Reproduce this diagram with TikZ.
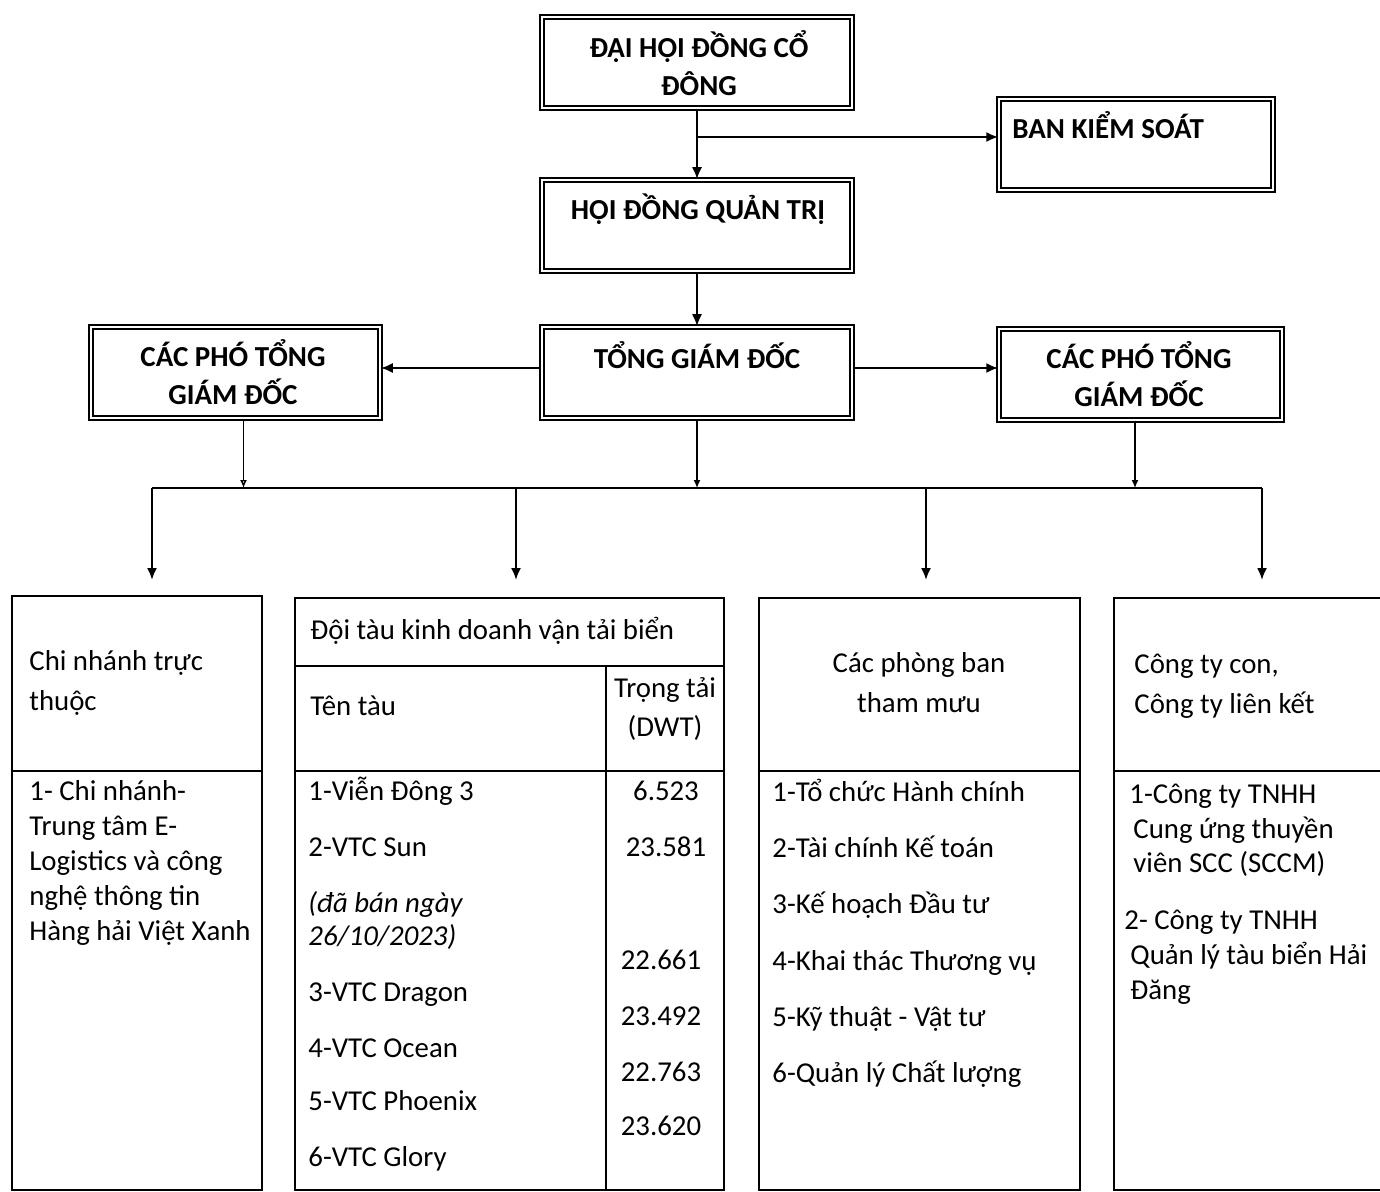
\documentclass[tikz,border=0pt]{standalone}
\usepackage{fontspec}
\setmainfont{Carlito}
\usetikzlibrary{arrows.meta}
\begin{document}
\begin{tikzpicture}[x=0.5pt,y=-0.5pt,
  ubox/.style={draw, double, line width=0.75pt, double distance=1.4pt, inner sep=0},
  lbox/.style={draw, line width=1.3pt, inner sep=0},
  dv/.style={line width=1.2pt},
  ln/.style={line width=1pt},
  arr/.style={line width=1pt, -{Latex[length=6pt,width=5pt]}},
  arrs/.style={line width=0.7pt, -{Latex[length=4pt,width=3.5pt]}},
  arro/.style={line width=0.7pt, -{Latex[open,length=4pt,width=3.5pt]}},
  bt/.style={inner sep=0, anchor=base, font=\fontsize{14.5}{17}\selectfont\bfseries},
  btw/.style={inner sep=0, anchor=base west, font=\fontsize{14.5}{17}\selectfont\bfseries},
  tw/.style={inner sep=0, anchor=base west, font=\fontsize{14.4}{17}\selectfont},
  tc/.style={inner sep=0, anchor=base, font=\fontsize{14.4}{17}\selectfont},
  ti/.style={inner sep=0, anchor=base west, font=\fontsize{14.4}{17}\selectfont\itshape}
]
\useasboundingbox (0,0) rectangle (1380,1192);
\fill[white] (0,0) rectangle (1380,1192);

% upper boxes
\node[ubox, minimum width=155pt, minimum height=45.5pt] (dh) at (697,62.5) {};
\node[ubox, minimum width=137pt, minimum height=45.5pt] (bks) at (1136,144.5) {};
\node[ubox, minimum width=155pt, minimum height=45.5pt] (hd) at (697,225.5) {};
\node[ubox, minimum width=155pt, minimum height=45.5pt] (tg) at (697,372.5) {};
\node[ubox, minimum width=144.5pt, minimum height=45.5pt] (lp) at (235.5,372.5) {};
\node[ubox, minimum width=141.5pt, minimum height=45.5pt] (rp) at (1140.5,374.5) {};

\node[bt] (dh1) at (699,58) {ĐẠI HỘI ĐỒNG CỔ};
\node[bt] (dh2) at (699,96) {ĐÔNG};
\node[btw] (bk1) at (1012,139) {BAN KIỂM SOÁT};
\node[bt] (hd1) at (698,220) {HỘI ĐỒNG QUẢN TRỊ};
\node[bt] (tg1) at (697,369) {TỔNG GIÁM ĐỐC};
\node[bt] (lp1) at (233,366) {CÁC PHÓ TỔNG};
\node[bt] (lp2) at (233,404) {GIÁM ĐỐC};
\node[bt] (rp1) at (1139,369) {CÁC PHÓ TỔNG};
\node[bt] (rp2) at (1139,407) {GIÁM ĐỐC};

% connectors
\coordinate (br) at (697,137);
\draw[ln] (dh.south) -- (br);
\draw[arr] (br) -- (hd.north);
\draw[arr] (br) -- (bks.west |- br);
\draw[arr] (hd.south) -- (tg.north);
\coordinate (hy) at (0,368);
\draw[arr] (tg.west |- hy) -- (lp.east |- hy);
\draw[arr] (tg.east |- hy) -- (rp.west |- hy);
\coordinate (busL) at (152,488);
\coordinate (busR) at (1262,488);
\draw[ln] (busL) -- (busR);
\draw[arrs] (tg.south) -- (tg.south |- busL);
\draw[arro] ([xshift=4pt]lp.south) -- ([xshift=4pt]lp.south |- busL);
\draw[arrs] ([xshift=-2.75pt]rp.south) -- ([xshift=-2.75pt]rp.south |- busL);
\coordinate (d1) at (152,580);
\coordinate (d2) at (516,580);
\coordinate (d3) at (926,580);
\coordinate (d4) at (1262,580);
\draw[arr] (busL) -- (d1);
\draw[arr] (d2 |- busL) -- (d2);
\draw[arr] (d3 |- busL) -- (d3);
\draw[arr] (busR) -- (d4);

% lower boxes
\node[lbox, minimum width=125pt, minimum height=297pt] (b1) at (137,893) {};
\node[lbox, minimum width=214.5pt, minimum height=296pt] (b2) at (509.5,894) {};
\node[lbox, minimum width=160.5pt, minimum height=296pt] (b3) at (919.5,894) {};
\node[lbox, minimum width=140.5pt, minimum height=296pt] (b4) at (1254.5,894) {};

\coordinate (h1) at (0,771);
\coordinate (h0) at (0,666);
\coordinate (cx) at (606,0);
\draw[dv] (b1.west |- h1) -- (b1.east |- h1);
\draw[dv] (b2.west |- h0) -- (b2.east |- h0);
\draw[dv] (b2.west |- h1) -- (b2.east |- h1);
\draw[dv] (cx |- h0) -- (cx |- b2.south);
\draw[dv] (b3.west |- h1) -- (b3.east |- h1);
\draw[dv] (b4.west |- h1) -- (b4.east |- h1);

% box 1 text
\node[tw] (a1) at (29,670) {Chi nhánh trực};
\node[tw] (a2) at (29,710) {thuộc};
\node[tw] (a3) at (29,800) {1- Chi nhánh-};
\node[tw] (a4) at (29,835) {Trung tâm E-};
\node[tw] (a5) at (29,870) {Logistics và công};
\node[tw] (a6) at (29,905) {nghệ thông tin};
\node[tw] (a7) at (29,940) {Hàng hải Việt Xanh};

% box 2 text
\node[tw] (s0) at (310,639) {Đội tàu kinh doanh vận tải biển};
\node[tw] (s1) at (310,715) {Tên tàu};
\node[tc] (s2) at (665,697) {Trọng tải};
\node[tc] (s3) at (665,736) {(DWT)};
\node[tw] (n1) at (308,800) {1-Viễn Đông 3};
\node[tw] (n2) at (308,856) {2-VTC Sun};
\node[ti] (n2a) at (308,912) {(đã bán ngày};
\node[ti] (n2b) at (308,945) {26/10/2023)};
\node[tw] (n3) at (308,1001) {3-VTC Dragon};
\node[tw] (n4) at (308,1057) {4-VTC Ocean};
\node[tw] (n5) at (308,1110) {5-VTC Phoenix};
\node[tw] (n6) at (308,1166) {6-VTC Glory};
\node[tc] (w1) at (666,800) {6.523};
\node[tc] (w2) at (666,856) {23.581};
\node[tc] (w3) at (661,969) {22.661};
\node[tc] (w4) at (661,1025) {23.492};
\node[tc] (w5) at (661,1081) {22.763};
\node[tc] (w6) at (661,1135) {23.620};

% box 3 text
\node[tc] (p0) at (919,672) {Các phòng ban};
\node[tc] (p0b) at (919,712) {tham mưu};
\node[tw] (p1) at (772,801) {1-Tổ chức Hành chính};
\node[tw] (p2) at (772,857) {2-Tài chính Kế toán};
\node[tw] (p3) at (772,913) {3-Kế hoạch Đầu tư};
\node[tw] (p4) at (772,970) {4-Khai thác Thương vụ};
\node[tw] (p5) at (772,1026) {5-Kỹ thuật - Vật tư};
\node[tw] (p6) at (772,1082) {6-Quản lý Chất lượng};

% box 4 text
\node[tw] (c0) at (1134,673) {Công ty con,};
\node[tw] (c0b) at (1134,713) {Công ty liên kết};
\node[tw] (c1) at (1129,803) {1-Công ty TNHH};
\node[tw] (c2) at (1133,838) {Cung ứng thuyền};
\node[tw] (c3) at (1133,872) {viên SCC (SCCM)};
\node[tw] (c4) at (1124,929) {2- Công ty TNHH};
\node[tw] (c5) at (1130,964) {Quản lý tàu biển Hải};
\node[tw] (c6) at (1130,999) {Đăng};
\end{tikzpicture}
\end{document}
